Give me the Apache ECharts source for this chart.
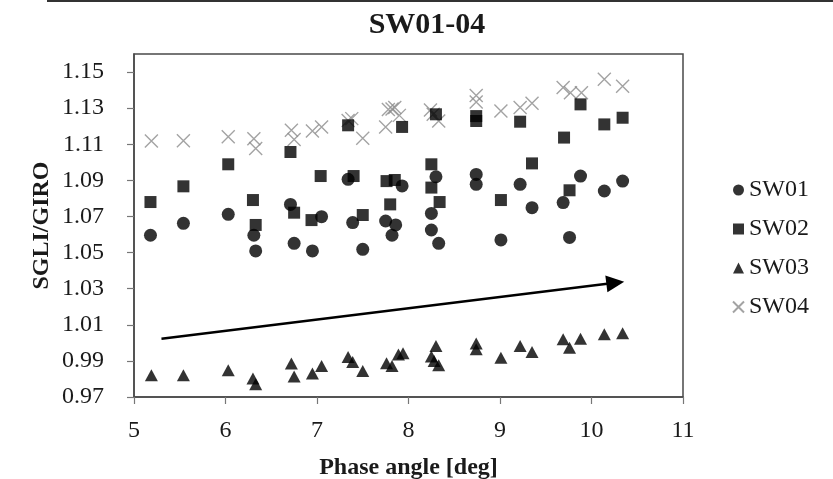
<!DOCTYPE html>
<html>
<head>
<meta charset="utf-8">
<script src="https://cdn.jsdelivr.net/npm/echarts@6/dist/echarts.min.js"></script>
<style>
  html, body { margin: 0; padding: 0; background: #fff; }
  #chart { width: 833px; height: 479px; }
</style>
</head>
<body>
<div id="chart"></div>
<script>
// Phase angle [deg] and SGLI/GIRO ratio for each band
const sw01X = [5.18, 5.54, 6.03, 6.31, 6.33, 6.71, 6.75, 6.95, 7.05, 7.34, 7.39, 7.50, 7.75, 7.86, 7.82, 7.93, 8.30, 8.25, 8.25, 8.33, 8.74, 8.74, 9.01, 9.22, 9.35, 9.69, 9.76, 9.88, 10.14, 10.34];
const sw01Y = [1.0596, 1.0662, 1.0712, 1.0596, 1.0509, 1.0767, 1.0551, 1.0509, 1.0699, 1.0906, 1.0666, 1.0518, 1.0675, 1.0653, 1.0596, 1.0869, 1.0920, 1.0717, 1.0625, 1.0551, 1.0933, 1.0878, 1.0570, 1.0878, 1.0749, 1.0777, 1.0584, 1.0924, 1.0841, 1.0896];

const sw02X = [5.18, 5.54, 6.03, 6.30, 6.33, 6.71, 6.75, 6.94, 7.04, 7.34, 7.40, 7.50, 7.76, 7.85, 7.80, 7.93, 8.25, 8.25, 8.34, 8.30, 8.74, 8.74, 9.01, 9.22, 9.35, 9.70, 9.76, 9.88, 10.14, 10.34];
const sw02Y = [1.0780, 1.0867, 1.0989, 1.0791, 1.0653, 1.1057, 1.0721, 1.0680, 1.0924, 1.1205, 1.0924, 1.0708, 1.0896, 1.0902, 1.0767, 1.1196, 1.0989, 1.0860, 1.0780, 1.1266, 1.1256, 1.1229, 1.0791, 1.1225, 1.0994, 1.1137, 1.0845, 1.1321, 1.1210, 1.1247];

const sw03X = [5.19, 5.54, 6.03, 6.30, 6.33, 6.72, 6.75, 6.95, 7.05, 7.34, 7.39, 7.50, 7.76, 7.82, 7.89, 7.94, 8.30, 8.25, 8.28, 8.33, 8.74, 8.74, 9.01, 9.22, 9.35, 9.69, 9.76, 9.88, 10.14, 10.34];
const sw03Y = [0.9820, 0.9820, 0.9848, 0.9802, 0.9770, 0.9885, 0.9813, 0.9830, 0.9872, 0.9922, 0.9894, 0.9844, 0.9887, 0.9872, 0.9936, 0.9942, 0.9982, 0.9924, 0.9900, 0.9876, 0.9997, 0.9964, 0.9918, 0.9982, 0.9949, 1.0020, 0.9973, 1.0023, 1.0047, 1.0053];

const sw04X = [5.19, 5.54, 6.03, 6.31, 6.33, 6.72, 6.75, 6.95, 7.05, 7.38, 7.34, 7.50, 7.78, 7.75, 7.85, 7.90, 7.82, 8.24, 8.33, 8.27, 8.74, 8.74, 9.01, 9.22, 9.35, 9.69, 9.77, 9.89, 10.14, 10.34];
const sw04Y = [1.1118, 1.1120, 1.1142, 1.1130, 1.1076, 1.1177, 1.1127, 1.1173, 1.1195, 1.1242, 1.1232, 1.1133, 1.1293, 1.1195, 1.1304, 1.1260, 1.1295, 1.1290, 1.1229, 1.1266, 1.1370, 1.1334, 1.1284, 1.1303, 1.1327, 1.1414, 1.1386, 1.1386, 1.1460, 1.1422];

// Trend arrow endpoints (phase angle, ratio)
const arrowStart = [5.30, 1.0023];
const arrowEnd = [10.26, 1.0333];

// Axis ticks
const xTicks = [5, 6, 7, 8, 9, 10, 11];
const yTicks = [0.97, 0.99, 1.01, 1.03, 1.05, 1.07, 1.09, 1.11, 1.13, 1.15];

const FONT = '"Liberation Serif", "Times New Roman", serif';
const zip = (xs, ys) => xs.map((x, i) => [x, ys[i]]);
const crossPath = 'path://M0,0L10,10M10,0L0,10';

const chart = echarts.init(document.getElementById('chart'), null, { renderer: 'canvas' });

chart.setOption({
  animation: false,
  backgroundColor: '#ffffff',
  title: {
    text: 'SW01-04',
    left: 422,
    textAlign: 'center',
    top: 5,
    textStyle: { fontFamily: FONT, fontWeight: 'bold', fontSize: 30, color: '#1a1a1a' }
  },
  graphic: [
    { type: 'rect', shape: { x: 47, y: 0, width: 786, height: 2 }, style: { fill: '#333' }, silent: true }
  ],
  legend: {
    orient: 'vertical',
    left: 727,
    top: 173,
    itemWidth: 11,
    itemHeight: 11,
    itemGap: 15,
    textStyle: { fontFamily: FONT, fontSize: 24, color: '#1a1a1a', lineHeight: 24 },
    data: ['SW01', 'SW02', 'SW03', 'SW04']
  },
  grid: {
    left: 134, top: 54, right: 150, bottom: 82,
    outerBoundsMode: 'none',
    containLabel: false,
    show: true, borderColor: '#4a4a4a', borderWidth: 1.5, backgroundColor: 'transparent'
  },
  xAxis: {
    type: 'value',
    min: 5, max: 11, interval: 1,
    name: 'Phase angle [deg]',
    nameLocation: 'middle',
    nameGap: 59,
    nameMoveOverlap: false,
    nameTextStyle: { fontFamily: FONT, fontWeight: 'bold', fontSize: 24, color: '#1a1a1a' },
    axisLine: { show: true, lineStyle: { color: '#4a4a4a', width: 1.5 } },
    axisTick: { show: true, length: 7, lineStyle: { color: '#777', width: 1.2 } },
    axisLabel: { fontFamily: FONT, fontSize: 24, color: '#1a1a1a', margin: 22 },
    splitLine: { show: false }
  },
  yAxis: {
    type: 'value',
    min: 0.97, max: 1.16,
    name: 'SGLI/GIRO',
    nameLocation: 'middle',
    nameGap: 80,
    nameMoveOverlap: false,
    nameRotate: 90,
    nameTextStyle: { fontFamily: FONT, fontWeight: 'bold', fontSize: 24, color: '#1a1a1a' },
    axisLine: { show: true, lineStyle: { color: '#4a4a4a', width: 1.5 } },
    axisTick: { show: true, length: 7, customValues: yTicks, lineStyle: { color: '#777', width: 1.2 } },
    axisLabel: {
      fontFamily: FONT, fontSize: 24, color: '#1a1a1a', margin: 30,
      customValues: yTicks,
      formatter: v => v.toFixed(2)
    },
    splitLine: { show: false }
  },
  series: [
    {
      name: 'SW01', type: 'scatter', symbol: 'circle', symbolSize: 13,
      itemStyle: { color: '#000' }, data: zip(sw01X, sw01Y), z: 3
    },
    {
      name: 'SW02', type: 'scatter', symbol: 'rect', symbolSize: 12,
      itemStyle: { color: '#000' }, data: zip(sw02X, sw02Y), z: 3
    },
    {
      name: 'SW03', type: 'scatter', symbol: 'triangle', symbolSize: [13, 12],
      itemStyle: { color: '#000' }, data: zip(sw03X, sw03Y), z: 3,
      markLine: {
        silent: true,
        symbol: ['none', 'triangle'],
        symbolSize: [17, 18],
        label: { show: false },
        lineStyle: { color: '#000', width: 2.5, type: 'solid' },
        data: [[{ coord: arrowStart }, { coord: arrowEnd }]]
      }
    },
    {
      name: 'SW04', type: 'scatter', symbol: crossPath, symbolSize: 13,
      itemStyle: { color: 'transparent', borderColor: '#8c8c8c', borderWidth: 1.4 },
      data: zip(sw04X, sw04Y), z: 2
    }
  ]
});
</script>
</body>
</html>
